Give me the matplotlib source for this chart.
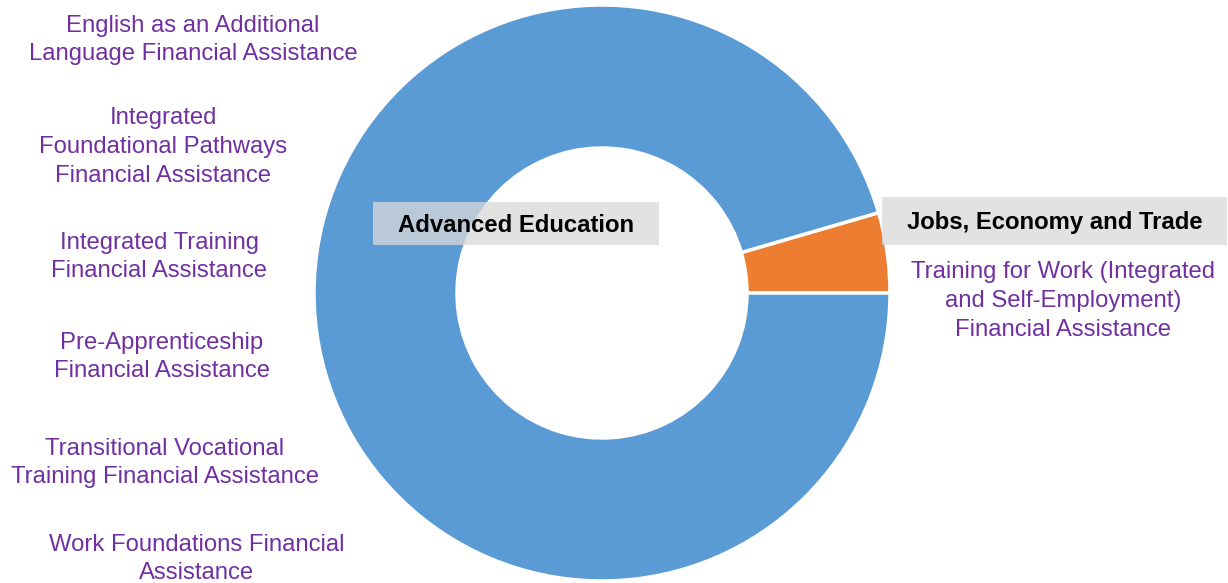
import matplotlib.pyplot as plt
from matplotlib.patches import Rectangle

plt.rcParams['font.family'] = ['Liberation Sans', 'DejaVu Sans']

# share of total (%)
ministries = ['Jobs, Economy and Trade', 'Advanced Education']
shares = [4.5, 95.5]
colors = ['#ED7D31', '#5B9BD5']

left_programs = [
    'English as an Additional\nLanguage Financial Assistance',
    'Integrated\nFoundational Pathways\nFinancial Assistance',
    'Integrated Training\nFinancial Assistance',
    'Pre-Apprenticeship\nFinancial Assistance',
    'Transitional Vocational\nTraining Financial Assistance',
    'Work Foundations Financial\nAssistance',
]
right_programs = ['Training for Work (Integrated\nand Self-Employment)\nFinancial Assistance']

W, H = 1228, 583
fig = plt.figure(figsize=(W / 100, H / 100), dpi=100)
ax = fig.add_axes([0, 0, 1, 1])

cx, cy, R = 602, H - 293, 288
ax.pie(shares, colors=colors, startangle=0, counterclock=True,
       center=(cx, cy), radius=R, frame=True,
       wedgeprops=dict(width=143, edgecolor='white', linewidth=2.5))
ax.set_xlim(0, W)
ax.set_ylim(0, H)
ax.set_aspect('equal')
ax.axis('off')

purple = '#7030A0'
fs = 17.2

# ministry labels in grey boxes
boxes = [(373, 202, 286, 43, 516, 226), (882, 197, 345, 48, 1055, 223)]
for name, (x0, y0, w, h, tx, ty) in zip(ministries[::-1], boxes):
    ax.add_patch(Rectangle((x0, H - y0 - h), w, h, facecolor='#D9D9D9',
                           alpha=0.75, edgecolor='none', zorder=3))
    ax.text(tx, H - ty, name, ha='center', va='center', fontsize=fs,
            fontweight='bold', color='black', zorder=4)

left_pos = [(193, 40), (163, 147), (159, 257), (162, 357), (165, 463), (197, 559)]
for lab, (x, y) in zip(left_programs, left_pos):
    ax.text(x, H - y, lab, ha='center', va='center', fontsize=fs,
            color=purple, linespacing=1.4)

ax.text(1063, H - 301, right_programs[0], ha='center', va='center',
        fontsize=fs, color=purple, linespacing=1.4)

fig.savefig('out.png', dpi=100)
